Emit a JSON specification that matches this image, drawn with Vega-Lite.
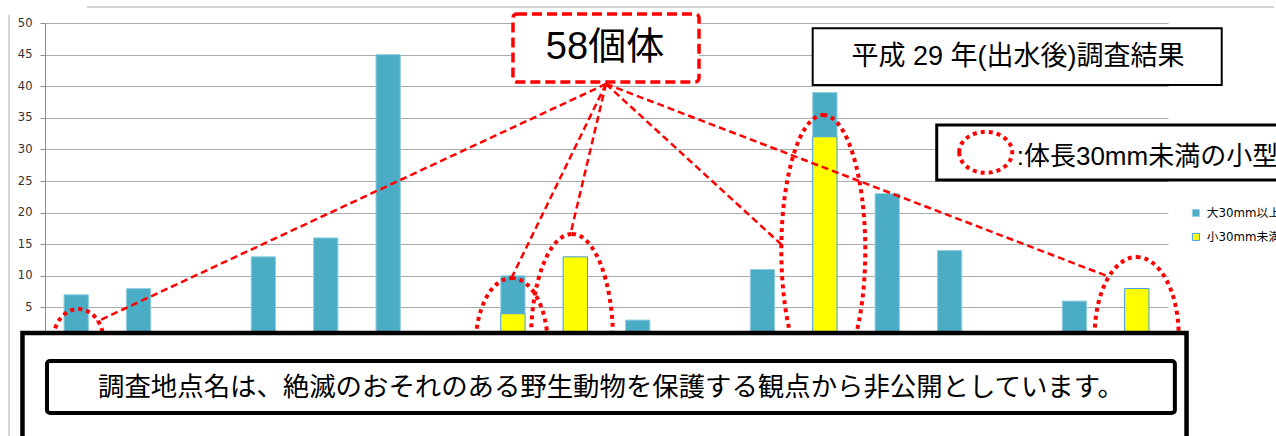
{
  "$schema": "https://vega.github.io/schema/vega-lite/v6.json",
  "width": 1123,
  "height": 316,
  "autosize": {"type": "none"},
  "padding": {"left": 45, "top": 23, "right": 108, "bottom": 97},
  "background": "white",
  "config": {
    "view": {"stroke": null},
    "font": "Noto Sans CJK JP",
    "axis": {"labelFontSize": 11.5, "labelFont": "DejaVu Sans"},
    "axisY": {"tickCount": 10, "grid": true, "gridColor": "#ababab", "gridWidth": 1, "domainColor": "#8c8c8c", "tickColor": "#8c8c8c", "tickSize": 5, "labelFontSize": 11.5, "labelFont": "DejaVu Sans", "labelColor": "#333333", "labelPadding": 8, "title": null},
    "legend": {"labelFontSize": 11.8, "labelFont": "DejaVu Sans, Noto Sans CJK JP", "labelColor": "#000000"}
  },
  "datasets": {
    "counts": [
      {"site": "1", "size": "大30mm以上", "count": 6},
      {"site": "1", "size": "小30mm未満", "count": 1},
      {"site": "2", "size": "大30mm以上", "count": 8},
      {"site": "4", "size": "大30mm以上", "count": 13},
      {"site": "5", "size": "大30mm以上", "count": 16},
      {"site": "6", "size": "大30mm以上", "count": 45},
      {"site": "8", "size": "大30mm以上", "count": 6},
      {"site": "8", "size": "小30mm未満", "count": 4},
      {"site": "9", "size": "小30mm未満", "count": 13},
      {"site": "10", "size": "大30mm以上", "count": 3},
      {"site": "12", "size": "大30mm以上", "count": 11},
      {"site": "13", "size": "大30mm以上", "count": 7},
      {"site": "13", "size": "小30mm未満", "count": 32},
      {"site": "14", "size": "大30mm以上", "count": 23},
      {"site": "15", "size": "大30mm以上", "count": 14},
      {"site": "17", "size": "大30mm以上", "count": 6},
      {"site": "18", "size": "小30mm未満", "count": 8}
    ],
    "leaders": [
      {"u": 8.992, "v": 40.35, "u2": 0.829, "v2": 2.74},
      {"u": 8.992, "v": 40.35, "u2": 7.485, "v2": 9.81},
      {"u": 8.992, "v": 40.35, "u2": 8.415, "v2": 16.3},
      {"u": 8.992, "v": 40.35, "u2": 11.813, "v2": 14.87},
      {"u": 8.992, "v": 40.35, "u2": 17.022, "v2": 9.97}
    ],
    "frame": [
      {"u": 0.673, "v": 52.53, "u2": 19.7, "v2": 52.53},
      {"u": -0.577, "v": 51.27, "u2": -0.577, "v2": -16.5}
    ]
  },
  "layer": [
    {
      "data": {"name": "counts"},
      "mark": {"type": "bar", "strokeWidth": 1},
      "encoding": {
        "x": {"field": "site", "type": "nominal", "scale": {"domain": ["1","2","3","4","5","6","7","8","9","10","11","12","13","14","15","16","17","18"], "paddingInner": 0.61, "paddingOuter": 0.305}, "axis": null},
        "y": {"field": "count", "type": "quantitative", "stack": "zero", "scale": {"domain": [0, 50], "nice": false}, "axis": {"title": null, "labelFontSize": 11.5, "labelFont": "DejaVu Sans"}},
        "fill": {"field": "size", "type": "nominal", "scale": {"domain": ["大30mm以上", "小30mm未満"], "range": ["#4BACC6", "#FFFF00"]},
          "legend": {"orient": "none", "legendX": 1145, "legendY": 184, "title": null, "symbolType": "square", "symbolSize": 49, "symbolStrokeWidth": 1, "labelFontSize": 11.8, "labelFont": "DejaVu Sans, Noto Sans CJK JP", "labelColor": "#000000", "rowPadding": 11, "padding": 0, "labelOffset": 5}},
        "stroke": {"field": "size", "type": "nominal", "scale": {"domain": ["大30mm以上", "小30mm未満"], "range": ["#93CFDF", "#3D9BE9"]},
          "legend": {"orient": "none", "legendX": 1145, "legendY": 184, "title": null, "symbolType": "square", "symbolSize": 49, "symbolStrokeWidth": 1, "labelFontSize": 11.8, "labelFont": "DejaVu Sans, Noto Sans CJK JP", "labelColor": "#000000", "rowPadding": 11, "padding": 0, "labelOffset": 5}},
        "order": {"field": "size", "sort": "descending"}
      }
    },
    {
      "data": {"values": [{"u": 0.534, "v": -0.16}]},
      "mark": {"type": "point", "shape": "M0,-1 A0.806,1 0 1,1 0,1 A0.806,1 0 1,1 0,-1 Z", "size": 3844, "filled": false, "stroke": "#FF0000", "strokeWidth": 4, "strokeDash": [4, 4], "opacity": 1},
      "encoding": {
        "x": {"field": "u", "type": "quantitative", "scale": {"domain": [0, 18], "nice": false}, "axis": null},
        "y": {"field": "v", "type": "quantitative", "scale": {"domain": [0, 50], "nice": false}}
      }
    },
    {
      "data": {"values": [{"u": 7.48, "v": -0.95}]},
      "mark": {"type": "point", "shape": "M0,-1 A0.537,1 0 1,1 0,1 A0.537,1 0 1,1 0,-1 Z", "size": 17956, "filled": false, "stroke": "#FF0000", "strokeWidth": 4, "strokeDash": [4, 4], "opacity": 1},
      "encoding": {
        "x": {"field": "u", "type": "quantitative", "scale": {"domain": [0, 18], "nice": false}, "axis": null},
        "y": {"field": "v", "type": "quantitative", "scale": {"domain": [0, 50], "nice": false}}
      }
    },
    {
      "data": {"values": [{"u": 8.447, "v": -0.16}]},
      "mark": {"type": "point", "shape": "M0,-1 A0.387,1 0 1,1 0,1 A0.387,1 0 1,1 0,-1 Z", "size": 44944, "filled": false, "stroke": "#FF0000", "strokeWidth": 4, "strokeDash": [4, 4], "opacity": 1},
      "encoding": {
        "x": {"field": "u", "type": "quantitative", "scale": {"domain": [0, 18], "nice": false}, "axis": null},
        "y": {"field": "v", "type": "quantitative", "scale": {"domain": [0, 50], "nice": false}}
      }
    },
    {
      "data": {"values": [{"u": 12.475, "v": 14.08}]},
      "mark": {"type": "point", "shape": "M0,-1 A0.311,1 0 1,1 0,1 A0.311,1 0 1,1 0,-1 Z", "size": 72900, "filled": false, "stroke": "#FF0000", "strokeWidth": 4, "strokeDash": [4, 4], "opacity": 1},
      "encoding": {
        "x": {"field": "u", "type": "quantitative", "scale": {"domain": [0, 18], "nice": false}, "axis": null},
        "y": {"field": "v", "type": "quantitative", "scale": {"domain": [0, 50], "nice": false}}
      }
    },
    {
      "data": {"values": [{"u": 17.498, "v": 0.63}]},
      "mark": {"type": "point", "shape": "M0,-1 A0.538,1 0 1,1 0,1 A0.538,1 0 1,1 0,-1 Z", "size": 24336, "filled": false, "stroke": "#FF0000", "strokeWidth": 4, "strokeDash": [4, 4], "opacity": 1},
      "encoding": {
        "x": {"field": "u", "type": "quantitative", "scale": {"domain": [0, 18], "nice": false}, "axis": null},
        "y": {"field": "v", "type": "quantitative", "scale": {"domain": [0, 50], "nice": false}}
      }
    },
    {
      "data": {"name": "leaders"},
      "mark": {"type": "rule", "color": "#FF0000", "strokeWidth": 2.5, "strokeDash": [7, 4]},
      "encoding": {
        "x": {"field": "u", "type": "quantitative", "scale": {"domain": [0, 18], "nice": false}, "axis": null},
        "x2": {"field": "u2"},
        "y": {"field": "v", "type": "quantitative", "scale": {"domain": [0, 50], "nice": false}},
        "y2": {"field": "v2"}
      }
    },
    {
      "data": {"values": [{"u": -0.361, "u2": 18.297, "v": 0.95, "v2": -17}]},
      "mark": {"type": "rect", "fill": "#FFFFFF", "stroke": "#000000", "strokeWidth": 4.5},
      "encoding": {
        "x": {"field": "u", "type": "quantitative", "scale": {"domain": [0, 18], "nice": false}, "axis": null},
        "x2": {"field": "u2"},
        "y": {"field": "v", "type": "quantitative", "scale": {"domain": [0, 50], "nice": false}},
        "y2": {"field": "v2"}
      }
    },
    {
      "data": {"values": [{"u": 0.032, "u2": 18.11, "v": -3.48, "v2": -11.71}]},
      "mark": {"type": "rect", "fill": "#FFFFFF", "stroke": "#000000", "strokeWidth": 4, "cornerRadius": 3},
      "encoding": {
        "x": {"field": "u", "type": "quantitative", "scale": {"domain": [0, 18], "nice": false}, "axis": null},
        "x2": {"field": "u2"},
        "y": {"field": "v", "type": "quantitative", "scale": {"domain": [0, 50], "nice": false}},
        "y2": {"field": "v2"}
      }
    },
    {
      "data": {"values": [{"u": 9.072, "v": -7.75, "label": "調査地点名は、絶滅のおそれのある野生動物を保護する観点から非公開としています。"}]},
      "mark": {"type": "text", "align": "center", "baseline": "middle", "fontSize": 26.4, "font": "Noto Sans CJK JP", "color": "#000000"},
      "encoding": {
        "x": {"field": "u", "type": "quantitative", "scale": {"domain": [0, 18], "nice": false}, "axis": null},
        "y": {"field": "v", "type": "quantitative", "scale": {"domain": [0, 50], "nice": false}},
        "text": {"field": "label"}
      }
    },
    {
      "data": {"values": [{"u": 7.501, "u2": 10.483, "v": 51.42, "v2": 40.66}]},
      "mark": {"type": "rect", "fill": "#FFFFFF", "stroke": "#FF0000", "strokeWidth": 3.5, "strokeDash": [10, 5], "cornerRadius": 4},
      "encoding": {
        "x": {"field": "u", "type": "quantitative", "scale": {"domain": [0, 18], "nice": false}, "axis": null},
        "x2": {"field": "u2"},
        "y": {"field": "v", "type": "quantitative", "scale": {"domain": [0, 50], "nice": false}},
        "y2": {"field": "v2"}
      }
    },
    {
      "data": {"values": [{"u": 8.976, "v": 46.04, "label": "58個体"}]},
      "mark": {"type": "text", "align": "center", "baseline": "middle", "fontSize": 38, "font": "Liberation Sans, Noto Sans CJK JP", "color": "#000000"},
      "encoding": {
        "x": {"field": "u", "type": "quantitative", "scale": {"domain": [0, 18], "nice": false}, "axis": null},
        "y": {"field": "v", "type": "quantitative", "scale": {"domain": [0, 50], "nice": false}},
        "text": {"field": "label"}
      }
    },
    {
      "data": {"values": [{"u": 12.305, "u2": 18.861, "v": 49.16, "v2": 40.19}]},
      "mark": {"type": "rect", "fill": "#FFFFFF", "stroke": "#000000", "strokeWidth": 2},
      "encoding": {
        "x": {"field": "u", "type": "quantitative", "scale": {"domain": [0, 18], "nice": false}, "axis": null},
        "x2": {"field": "u2"},
        "y": {"field": "v", "type": "quantitative", "scale": {"domain": [0, 50], "nice": false}},
        "y2": {"field": "v2"}
      }
    },
    {
      "data": {"values": [{"u": 15.596, "v": 44.62, "label": "平成 29 年(出水後)調査結果"}]},
      "mark": {"type": "text", "align": "center", "baseline": "middle", "fontSize": 27, "font": "Liberation Sans, Noto Sans CJK JP", "color": "#000000"},
      "encoding": {
        "x": {"field": "u", "type": "quantitative", "scale": {"domain": [0, 18], "nice": false}, "axis": null},
        "y": {"field": "v", "type": "quantitative", "scale": {"domain": [0, 50], "nice": false}},
        "text": {"field": "label"}
      }
    },
    {
      "data": {"values": [{"u": 14.293, "u2": 20.12, "v": 33.86, "v2": 25.16}]},
      "mark": {"type": "rect", "fill": "#FFFFFF", "stroke": "#000000", "strokeWidth": 3},
      "encoding": {
        "x": {"field": "u", "type": "quantitative", "scale": {"domain": [0, 18], "nice": false}, "axis": null},
        "x2": {"field": "u2"},
        "y": {"field": "v", "type": "quantitative", "scale": {"domain": [0, 50], "nice": false}},
        "y2": {"field": "v2"}
      }
    },
    {
      "data": {"values": [{"u": 15.078, "v": 29.54}]},
      "mark": {"type": "point", "shape": "M-1,0 A1,0.774 0 1,1 1,0 A1,0.774 0 1,1 -1,0 Z", "size": 2809, "filled": false, "stroke": "#FF0000", "strokeWidth": 4, "strokeDash": [4, 4], "opacity": 1},
      "encoding": {
        "x": {"field": "u", "type": "quantitative", "scale": {"domain": [0, 18], "nice": false}, "axis": null},
        "y": {"field": "v", "type": "quantitative", "scale": {"domain": [0, 50], "nice": false}}
      }
    },
    {
      "data": {"values": [{"u": 15.575, "v": 28.72, "label": ":体長30mm未満の小型"}]},
      "mark": {"type": "text", "align": "left", "baseline": "middle", "fontSize": 26, "font": "Liberation Sans, Noto Sans CJK JP", "color": "#000000"},
      "encoding": {
        "x": {"field": "u", "type": "quantitative", "scale": {"domain": [0, 18], "nice": false}, "axis": null},
        "y": {"field": "v", "type": "quantitative", "scale": {"domain": [0, 50], "nice": false}},
        "text": {"field": "label"}
      }
    },
    {
      "data": {"name": "frame"},
      "mark": {"type": "rule", "color": "#c4c4c4", "strokeWidth": 1.5},
      "encoding": {
        "x": {"field": "u", "type": "quantitative", "scale": {"domain": [0, 18], "nice": false}, "axis": null},
        "x2": {"field": "u2"},
        "y": {"field": "v", "type": "quantitative", "scale": {"domain": [0, 50], "nice": false}},
        "y2": {"field": "v2"}
      }
    }
  ],
  "resolve": {"scale": {"x": "independent"}, "axis": {"x": "independent"}}
}
